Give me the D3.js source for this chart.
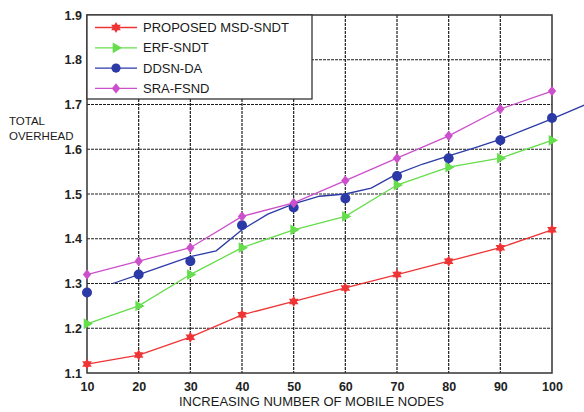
<!DOCTYPE html>
<html>
<head>
<meta charset="utf-8">
<script src="https://cdn.jsdelivr.net/npm/d3@7"></script>
<style>
  html, body { margin: 0; padding: 0; background: #fff; }
  svg { display: block; font-family: "Liberation Sans", Arial, sans-serif; }
</style>
</head>
<body>
<svg id="chart" width="584" height="412"></svg>
<script>
// ---- data ----
const nodes = [10, 20, 30, 40, 50, 60, 70, 80, 90, 100];
const msdSndt = [1.12, 1.14, 1.18, 1.23, 1.26, 1.29, 1.32, 1.35, 1.38, 1.42];
const erfSndt = [1.21, 1.25, 1.32, 1.38, 1.42, 1.45, 1.52, 1.56, 1.58, 1.62];
const ddsnDa  = [1.28, 1.32, 1.35, 1.43, 1.47, 1.49, 1.54, 1.58, 1.62, 1.67];
const sraFsnd = [1.32, 1.35, 1.38, 1.45, 1.48, 1.53, 1.58, 1.63, 1.69, 1.73];
// DDSN-DA connecting line is drawn through its own points (offset from markers)
const ddsnLineX = [15, 20, 25, 30, 35, 40, 45, 50, 55, 60, 65, 70, 75, 80, 85, 90, 95, 100, 106.5];
const ddsnLineY = [1.30, 1.32, 1.34, 1.36, 1.373, 1.42, 1.455, 1.478, 1.495, 1.50, 1.513, 1.545, 1.567, 1.585, 1.603, 1.622, 1.645, 1.668, 1.70];
const seriesNames = ["PROPOSED MSD-SNDT", "ERF-SNDT", "DDSN-DA", "SRA-FSND"];
const seriesColors = ["#ee3434", "#66dd4c", "#2b3aa6", "#cc4fcc"];
const xTicks = [10, 20, 30, 40, 50, 60, 70, 80, 90, 100];
const yTicks = [1.1, 1.2, 1.3, 1.4, 1.5, 1.6, 1.7, 1.8, 1.9];
const xTitle = "INCREASING NUMBER OF MOBILE NODES";
const yTitle = ["TOTAL", "OVERHEAD"];

// ---- layout ----
const svg = d3.select("#chart");
const x = d3.scaleLinear().domain([10, 100]).range([87, 552]);
const y = d3.scaleLinear().domain([1.1, 1.9]).range([373, 15]);

// grid
const grid = svg.append("g").attr("stroke", "#1e1e1e").attr("stroke-width", 1.2)
  .attr("stroke-dasharray", "3,1");
grid.selectAll("line.v").data(xTicks.slice(1, -1)).join("line")
  .attr("x1", d => x(d)).attr("x2", d => x(d)).attr("y1", y(1.9)).attr("y2", y(1.1));
grid.selectAll("line.h").data(yTicks.slice(1, -1)).join("line")
  .attr("x1", x(10)).attr("x2", x(100)).attr("y1", d => y(d)).attr("y2", d => y(d));

// axes (box)
const xAxis = d3.axisBottom(x).tickValues(xTicks).tickSize(0).tickPadding(9);
const yAxis = d3.axisLeft(y).tickValues(yTicks).tickSize(0).tickPadding(5).tickFormat(d3.format(".1f"));
const gx = svg.append("g").attr("transform", `translate(0,${y(1.1)})`).call(xAxis);
const gy = svg.append("g").attr("transform", `translate(${x(10)},0)`).call(yAxis);
[gx, gy].forEach(g => {
  g.select(".domain").remove();
  g.selectAll("text").attr("font-size", 12.5).attr("fill", "#222")
    .attr("font-family", "'Liberation Sans', Arial, sans-serif").attr("font-weight", "bold");
});
svg.append("rect").attr("x", x(10)).attr("y", y(1.9))
  .attr("width", x(100) - x(10)).attr("height", y(1.1) - y(1.9))
  .attr("fill", "none").attr("stroke", "#333").attr("stroke-width", 1.5);

// titles
svg.append("text").attr("x", x(55) - 8).attr("y", 406).attr("text-anchor", "middle")
  .attr("font-size", 13).attr("fill", "#1a1a1a").text(xTitle);
svg.selectAll("text.ytitle").data(yTitle).join("text").attr("class", "ytitle")
  .attr("x", 9).attr("y", (d, i) => 124.5 + i * 15)
  .attr("font-size", 11.5).attr("fill", "#1a1a1a").text(d => d);

// markers
function hexagram(r) {
  const p = [];
  for (let k = 0; k < 12; k++) {
    const a = -Math.PI / 2 + k * Math.PI / 6;
    const rr = k % 2 === 0 ? r : r * 0.58;
    p.push([rr * Math.cos(a), rr * Math.sin(a)]);
  }
  return "M" + p.map(q => q.join(",")).join("L") + "Z";
}
function triRight(r) {
  return `M${r},0L${-r * 0.55},${-r * 0.9}L${-r * 0.55},${r * 0.9}Z`;
}
function diamond(r) {
  return `M0,${-r}L${r * 0.8},0L0,${r}L${-r * 0.8},0Z`;
}
const markerFns = [
  () => hexagram(5.5),
  () => triRight(6),
  null,
  () => diamond(5.2)
];

const allSeries = [msdSndt, erfSndt, ddsnDa, sraFsnd];
const line = d3.line().x(d => x(d[0])).y(d => y(d[1]));

allSeries.forEach((vals, si) => {
  const g = svg.append("g");
  const pts = nodes.map((n, i) => [n, vals[i]]);
  const linePts = si === 2 ? ddsnLineX.map((n, i) => [n, ddsnLineY[i]]) : pts;
  g.append("path").attr("d", line(linePts)).attr("fill", "none")
    .attr("stroke", seriesColors[si]).attr("stroke-width", 1.3);
  if (si === 2) {
    g.selectAll("circle").data(pts).join("circle")
      .attr("cx", d => x(d[0])).attr("cy", d => y(d[1])).attr("r", 5)
      .attr("fill", seriesColors[si]);
  } else {
    g.selectAll("path.m").data(pts).join("path").attr("class", "m")
      .attr("transform", d => `translate(${x(d[0])},${y(d[1])})`)
      .attr("d", markerFns[si]).attr("fill", seriesColors[si]);
  }
});

// legend
const lg = svg.append("g");
lg.append("rect").attr("x", 87).attr("y", 15).attr("width", 225).attr("height", 84)
  .attr("fill", "#fff").attr("stroke", "#333").attr("stroke-width", 1.3);
seriesNames.forEach((name, si) => {
  const cy = 27.5 + si * 20.3;
  lg.append("line").attr("x1", 95).attr("x2", 137).attr("y1", cy).attr("y2", cy)
    .attr("stroke", seriesColors[si]).attr("stroke-width", 1.3);
  if (si === 2) {
    lg.append("circle").attr("cx", 116).attr("cy", cy).attr("r", 4.6).attr("fill", seriesColors[si]);
  } else {
    lg.append("path").attr("transform", `translate(116,${cy})`).attr("d", markerFns[si])
      .attr("fill", seriesColors[si]);
  }
  lg.append("text").attr("x", 143).attr("y", cy).attr("dy", "0.36em")
    .attr("font-size", 13).attr("fill", "#1a1a1a").text(name);
});
</script>
</body>
</html>
